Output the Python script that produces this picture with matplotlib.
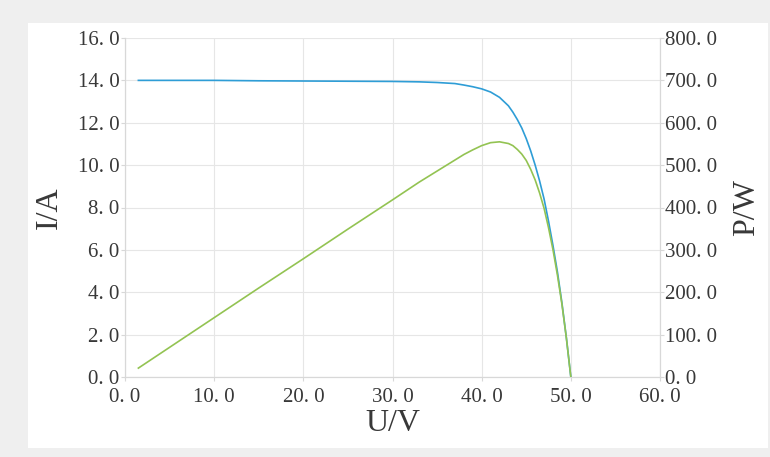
import matplotlib.pyplot as plt
from matplotlib.patches import Rectangle
from matplotlib.ticker import FuncFormatter, MultipleLocator

# values
u_volts = [1.5, 5, 10, 15, 20, 25, 30, 33, 35, 37, 38, 39, 40, 41, 42,
           43, 43.5, 44, 44.5, 45, 45.5, 46, 46.5, 47, 47.5, 48, 48.5,
           49, 49.5, 50]
i_amps = [14.0, 14.0, 14.0, 13.98, 13.97, 13.96, 13.95, 13.93, 13.9, 13.85,
          13.78, 13.7, 13.6, 13.45, 13.2, 12.8, 12.5, 12.15, 11.75, 11.25,
          10.67, 10.0, 9.25, 8.4, 7.35, 6.2, 4.95, 3.5, 1.85, 0.0]
p_watts = [21, 70, 140, 210, 279, 349, 418, 460, 486, 512, 525, 536, 546,
           553, 555, 551, 546, 537, 526, 511, 490, 465, 434, 398, 352, 300,
           240, 172, 92, 0]

font = "Liberation Serif"
tick_fmt = FuncFormatter(lambda v, pos: "{:.1f}".format(v).replace(".", ". "))

fig = plt.figure(figsize=(7.7, 4.57), dpi=100)
fig.patch.set_facecolor("#efefef")
panel = Rectangle((28 / 770, 1 - 448 / 457), 740 / 770, 425 / 457,
                  transform=fig.transFigure, facecolor="white",
                  edgecolor="none", zorder=-10)
fig.add_artist(panel)

ax = fig.add_axes([125 / 770, 1 - 377 / 457, 535 / 770, 339 / 457])
ax2 = ax.twinx()

ax.plot(u_volts, i_amps, color="#2e9dd6", lw=1.2, zorder=3)
ax2.plot(u_volts, p_watts, color="#93c352", lw=1.2, zorder=3)

ax.set_xlim(0, 60)
ax.set_ylim(0, 16)
ax2.set_ylim(0, 800)
ax.xaxis.set_major_locator(MultipleLocator(10))
ax.yaxis.set_major_locator(MultipleLocator(2))
ax2.yaxis.set_major_locator(MultipleLocator(100))

for a in (ax, ax2):
    for s in a.spines.values():
        s.set_color("#d8d8d8")
        s.set_linewidth(0.8)
    a.spines["top"].set_visible(False)
    a.tick_params(length=3, width=0.8, color="#d8d8d8", labelsize=15,
                  labelcolor="#383838", pad=1)
ax.tick_params(axis="x", pad=5)
ax2.tick_params(axis="y", pad=0.5)

ax.xaxis.set_major_formatter(tick_fmt)
ax.yaxis.set_major_formatter(tick_fmt)
ax2.yaxis.set_major_formatter(tick_fmt)
for a in (ax, ax2):
    for lab in a.get_xticklabels() + a.get_yticklabels():
        lab.set_fontfamily(font)
ax.grid(True, color="#e6e6e6", lw=0.8)
ax.set_axisbelow(True)

lab_kw = dict(fontfamily=font, fontsize=23, color="#383838", va="center")
ax.set_xlabel("U/V", **lab_kw)
ax.set_ylabel("I/A", **lab_kw)
ax2.set_ylabel("P/W", **lab_kw)
ax.xaxis.set_label_coords(0.5, -0.138)
ax.yaxis.set_label_coords(-0.142, 0.5)
ax2.yaxis.set_label_coords(1.161, 0.5)

fig.savefig("out.png", dpi=100, facecolor=fig.get_facecolor())
